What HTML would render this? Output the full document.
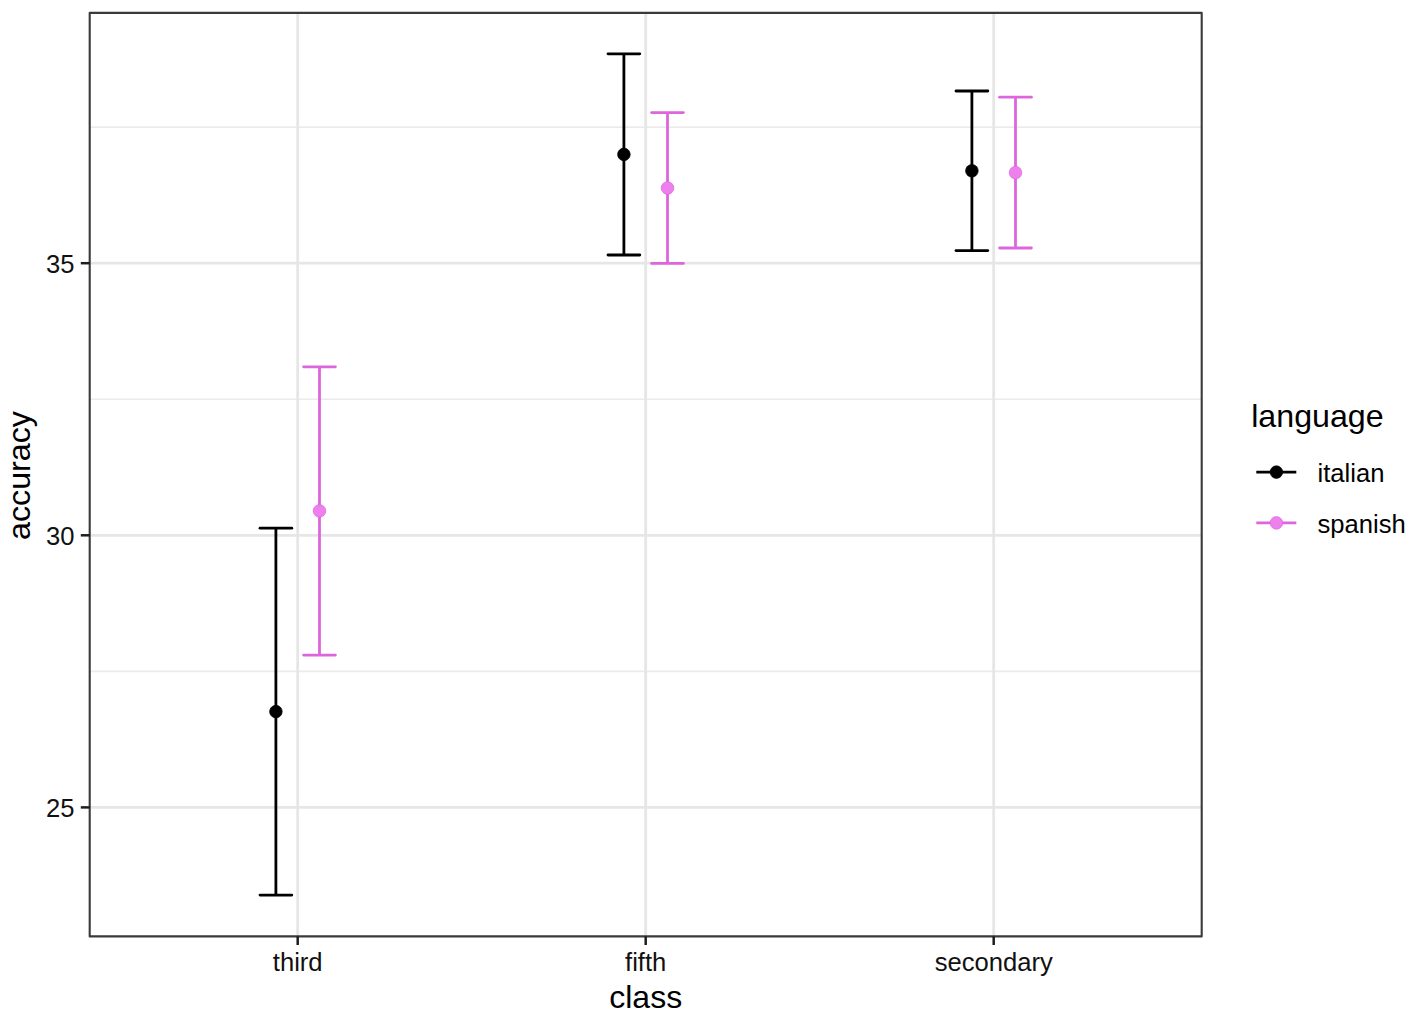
<!DOCTYPE html><html><head><meta charset="utf-8"><style>html,body{margin:0;padding:0;background:#fff;}svg{display:block;}text{font-family:"Liberation Sans",sans-serif;}</style></head><body>
<svg width="1417" height="1021" viewBox="0 0 1417 1021">
<rect width="1417" height="1021" fill="#ffffff"/>
<line x1="89.7" x2="1201.7" y1="671.35" y2="671.35" stroke="#EBEBEB" stroke-width="1.6"/>
<line x1="89.7" x2="1201.7" y1="399.25" y2="399.25" stroke="#EBEBEB" stroke-width="1.6"/>
<line x1="89.7" x2="1201.7" y1="127.15" y2="127.15" stroke="#EBEBEB" stroke-width="1.6"/>
<line x1="89.7" x2="1201.7" y1="807.40" y2="807.40" stroke="#E6E6E6" stroke-width="2.8"/>
<line x1="89.7" x2="1201.7" y1="535.30" y2="535.30" stroke="#E6E6E6" stroke-width="2.8"/>
<line x1="89.7" x2="1201.7" y1="263.20" y2="263.20" stroke="#E6E6E6" stroke-width="2.8"/>
<line x1="297.7" x2="297.7" y1="12.9" y2="936.4" stroke="#E6E6E6" stroke-width="2.8"/>
<line x1="645.7" x2="645.7" y1="12.9" y2="936.4" stroke="#E6E6E6" stroke-width="2.8"/>
<line x1="993.7" x2="993.7" y1="12.9" y2="936.4" stroke="#E6E6E6" stroke-width="2.8"/>
<g stroke="#000000" stroke-width="2.8" stroke-linecap="round">
<line x1="275.90" x2="275.90" y1="528.2" y2="895.05" stroke-linecap="butt"/>
<line x1="260.00" x2="291.80" y1="528.2" y2="528.2"/>
<line x1="260.00" x2="291.80" y1="895.05" y2="895.05"/>
</g>
<circle cx="275.90" cy="711.6" r="6.3" fill="#000000" stroke="#000000" stroke-width="0.7"/>
<g stroke="#DD66DD" stroke-width="2.8" stroke-linecap="round">
<line x1="319.50" x2="319.50" y1="366.8" y2="655.05" stroke-linecap="butt"/>
<line x1="303.60" x2="335.40" y1="366.8" y2="366.8"/>
<line x1="303.60" x2="335.40" y1="655.05" y2="655.05"/>
</g>
<circle cx="319.50" cy="510.9" r="6.3" fill="#EE80EE" stroke="#DD66DD" stroke-width="0.7"/>
<g stroke="#000000" stroke-width="2.8" stroke-linecap="round">
<line x1="623.90" x2="623.90" y1="53.85" y2="255.0" stroke-linecap="butt"/>
<line x1="608.00" x2="639.80" y1="53.85" y2="53.85"/>
<line x1="608.00" x2="639.80" y1="255.0" y2="255.0"/>
</g>
<circle cx="623.90" cy="154.4" r="6.3" fill="#000000" stroke="#000000" stroke-width="0.7"/>
<g stroke="#DD66DD" stroke-width="2.8" stroke-linecap="round">
<line x1="667.50" x2="667.50" y1="112.6" y2="263.4" stroke-linecap="butt"/>
<line x1="651.60" x2="683.40" y1="112.6" y2="112.6"/>
<line x1="651.60" x2="683.40" y1="263.4" y2="263.4"/>
</g>
<circle cx="667.50" cy="188.0" r="6.3" fill="#EE80EE" stroke="#DD66DD" stroke-width="0.7"/>
<g stroke="#000000" stroke-width="2.8" stroke-linecap="round">
<line x1="971.90" x2="971.90" y1="91.0" y2="250.6" stroke-linecap="butt"/>
<line x1="956.00" x2="987.80" y1="91.0" y2="91.0"/>
<line x1="956.00" x2="987.80" y1="250.6" y2="250.6"/>
</g>
<circle cx="971.90" cy="170.8" r="6.3" fill="#000000" stroke="#000000" stroke-width="0.7"/>
<g stroke="#DD66DD" stroke-width="2.8" stroke-linecap="round">
<line x1="1015.50" x2="1015.50" y1="97.2" y2="248.0" stroke-linecap="butt"/>
<line x1="999.60" x2="1031.40" y1="97.2" y2="97.2"/>
<line x1="999.60" x2="1031.40" y1="248.0" y2="248.0"/>
</g>
<circle cx="1015.50" cy="172.6" r="6.3" fill="#EE80EE" stroke="#DD66DD" stroke-width="0.7"/>
<rect x="89.7" y="12.9" width="1112.0" height="923.5" fill="none" stroke="#3a3a3a" stroke-width="2.1" stroke-linejoin="round"/>
<line x1="80.8" x2="89.7" y1="807.40" y2="807.40" stroke="#1e1e1e" stroke-width="2.5"/>
<line x1="80.8" x2="89.7" y1="535.30" y2="535.30" stroke="#1e1e1e" stroke-width="2.5"/>
<line x1="80.8" x2="89.7" y1="263.20" y2="263.20" stroke="#1e1e1e" stroke-width="2.5"/>
<line x1="297.7" x2="297.7" y1="936.4" y2="945" stroke="#1e1e1e" stroke-width="2.5"/>
<line x1="645.7" x2="645.7" y1="936.4" y2="945" stroke="#1e1e1e" stroke-width="2.5"/>
<line x1="993.7" x2="993.7" y1="936.4" y2="945" stroke="#1e1e1e" stroke-width="2.5"/>
<text x="74.4" y="817.20" font-size="25.6" text-anchor="end" fill="#111">25</text>
<text x="74.4" y="545.10" font-size="25.6" text-anchor="end" fill="#111">30</text>
<text x="74.4" y="273.00" font-size="25.6" text-anchor="end" fill="#111">35</text>
<text x="297.7" y="970.7" font-size="25.6" text-anchor="middle" fill="#111">third</text>
<text x="645.7" y="970.7" font-size="25.6" text-anchor="middle" fill="#111">fifth</text>
<text x="993.7" y="970.7" font-size="25.6" text-anchor="middle" fill="#111">secondary</text>
<text x="645.7" y="1007.6" font-size="32" text-anchor="middle" fill="#000">class</text>
<text transform="translate(30.4,475.5) rotate(-90)" x="0" y="0" font-size="32.2" text-anchor="middle" fill="#000">accuracy</text>
<text x="1251.2" y="427.3" font-size="32.2" fill="#000">language</text>
<line x1="1256.3" x2="1296.3" y1="472.1" y2="472.1" stroke="#000000" stroke-width="2.8"/>
<circle cx="1276.4" cy="472.1" r="6.3" fill="#000000" stroke="#000000" stroke-width="0.7"/>
<text x="1317.5" y="481.5" font-size="25.6" fill="#000">italian</text>
<line x1="1256.3" x2="1296.3" y1="522.9" y2="522.9" stroke="#DD66DD" stroke-width="2.8"/>
<circle cx="1276.4" cy="522.9" r="6.3" fill="#EE80EE" stroke="#DD66DD" stroke-width="0.7"/>
<text x="1317.5" y="532.6" font-size="25.6" fill="#000">spanish</text>
</svg></body></html>
